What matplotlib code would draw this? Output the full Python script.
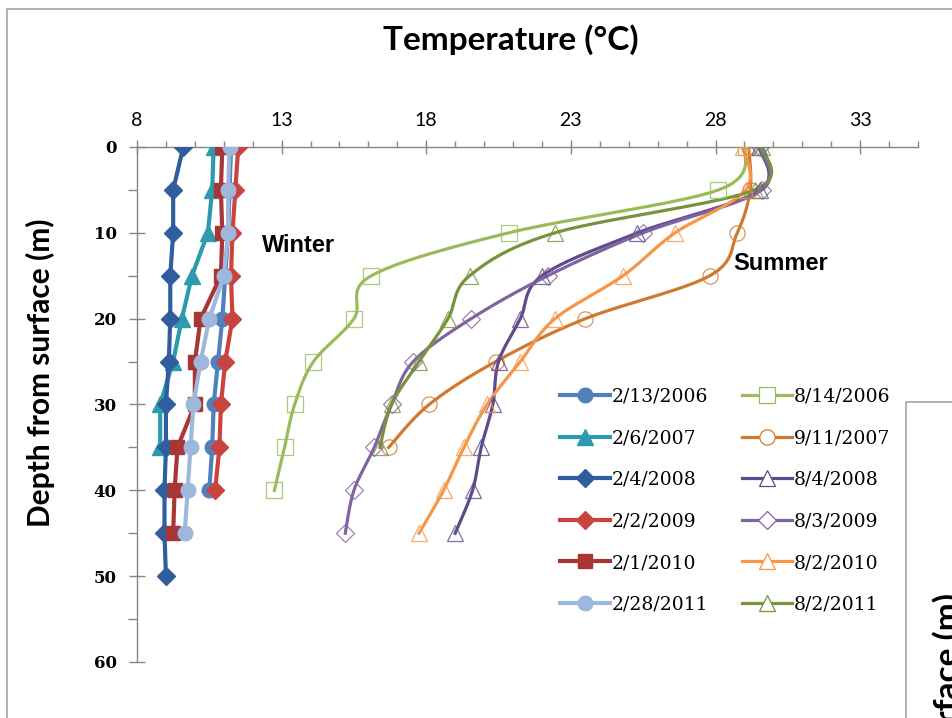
import numpy as np
import matplotlib
matplotlib.use("Agg")
import matplotlib.pyplot as plt
from matplotlib.lines import Line2D
from matplotlib.patches import Rectangle

# ---- data: water temperature profiles (degC) at 5 m depth steps ----
depth_step = 5

# winter profiles
w_2006_02_13 = [11.25, 11.2, 11.15, 11.05, 10.95, 10.8, 10.65, 10.6, 10.5]
w_2007_02_06 = [10.65, 10.6, 10.45, 9.9, 9.55, 9.25, 8.8, 8.8]
w_2008_02_04 = [9.6, 9.25, 9.25, 9.15, 9.15, 9.1, 9.0, 9.0, 8.95, 8.95, 9.0]
w_2009_02_02 = [11.5, 11.4, 11.3, 11.25, 11.3, 11.05, 10.9, 10.85, 10.7]
w_2010_02_01 = [10.95, 10.9, 10.95, 10.9, 10.2, 10.0, 10.0, 9.4, 9.3, 9.25]
w_2011_02_28 = [11.2, 11.15, 11.15, 11.0, 10.5, 10.2, 9.95, 9.85, 9.75, 9.65]

# summer profiles
s_2006_08_14 = [29.05, 28.1, 20.85, 16.1, 15.5, 14.1, 13.45, 13.1, 12.75]
s_2007_09_11 = [29.15, 29.2, 28.75, 27.8, 23.5, 20.4, 18.1, 16.7]
s_2008_08_04 = [29.5, 29.55, 25.3, 22.0, 21.25, 20.5, 20.3, 19.9, 19.6, 19.0]
s_2009_08_03 = [29.55, 29.6, 25.5, 22.2, 19.55, 17.55, 16.8, 16.2, 15.5, 15.2]
s_2010_08_02 = [28.95, 29.05, 26.6, 24.8, 22.45, 21.25, 20.1, 19.3, 18.6, 17.75]
s_2011_08_02 = [29.6, 29.35, 22.45, 19.5, 18.75, 17.75, 16.8, 16.4]

winter_labels = ["2/13/2006", "2/6/2007", "2/4/2008", "2/2/2009", "2/1/2010", "2/28/2011"]
summer_labels = ["8/14/2006", "9/11/2007", "8/4/2008", "8/3/2009", "8/2/2010", "8/2/2011"]

x_ticks = [8, 13, 18, 23, 28, 33]
y_ticks = [0, 10, 20, 30, 40, 50, 60]

winter = [w_2006_02_13, w_2007_02_06, w_2008_02_04, w_2009_02_02, w_2010_02_01, w_2011_02_28]
summer = [s_2006_08_14, s_2007_09_11, s_2008_08_04, s_2009_08_03, s_2010_08_02, s_2011_08_02]

winter_style = [
    ("#4F81BD", "o", 10.5),
    ("#2E9AAE", "^", 11),
    ("#2F5E9E", "D", 9),
    ("#C9443F", "D", 9),
    ("#A83636", "s", 10),
    ("#9DB8DC", "o", 10.5),
]
summer_style = [
    ("#9BBB59", "s", 11),
    ("#CF7A30", "o", 11),
    ("#5F4A8B", "^", 12),
    ("#8064A2", "D", 9),
    ("#F79646", "^", 12),
    ("#77933C", "^", 12),
]


def smooth_curve(x, y, n=24):
    """Bezier smoothing through the points (Catmull-Rom style control points)."""
    p = np.column_stack([x, y]).astype(float)
    if len(p) < 3:
        return p[:, 0], p[:, 1]
    ext = np.vstack([p[0], p, p[-1]])
    out = []
    t = np.linspace(0, 1, n)[:, None]
    for i in range(len(p) - 1):
        p0, p1, p2, p3 = ext[i], ext[i + 1], ext[i + 2], ext[i + 3]
        c1 = p1 + (p2 - p0) / 6.0
        c2 = p2 - (p3 - p1) / 6.0
        seg = ((1 - t) ** 3) * p1 + 3 * ((1 - t) ** 2) * t * c1 + 3 * (1 - t) * t ** 2 * c2 + t ** 3 * p2
        out.append(seg if i == 0 else seg[1:])
    out = np.vstack(out)
    return out[:, 0], out[:, 1]


fig = plt.figure(figsize=(9.52, 7.18), dpi=100)
fig.patch.set_facecolor("white")

W, H = 952.0, 718.0
ax = fig.add_axes([137 / W, 1 - 662 / H, (918 - 137) / W, (662 - 147) / H])

handles = []
for temps, (c, m, ms), lab in zip(winter, winter_style, winter_labels):
    d = np.arange(len(temps)) * depth_step
    ax.plot(temps, d, color=c, lw=3.0, marker=m, ms=ms, mfc=c, mec=c, zorder=3)
    handles.append(Line2D([], [], color=c, lw=3.0, marker=m, ms=ms, mfc=c, mec=c, label=lab))

for temps, (c, m, ms), lab in zip(summer, summer_style, summer_labels):
    d = np.arange(len(temps)) * depth_step
    sx, sy = smooth_curve(temps, d)
    ax.plot(sx, sy, color=c, lw=2.3, zorder=3)
    ax.plot(temps, d, ls="none", marker=m, ms=ms, mfc="none", mec=c, mew=0.9, alpha=0.8, zorder=4)
    handles.append(Line2D([], [], color=c, lw=2.3, marker=m, ms=ms, mfc="white", mec=c, mew=0.9, label=lab))

ax.set_xlim(8, 35)
ax.set_ylim(60, 0)
ax.xaxis.tick_top()
ax.set_xticks(x_ticks)
ax.set_xticks(np.arange(8, 36, 1), minor=True)
ax.set_yticks(y_ticks)
ax.set_yticks(np.arange(0, 61, 5), minor=True)

spine_c = "#868686"
for s in ("right", "bottom"):
    ax.spines[s].set_visible(False)
for s in ("top", "left"):
    ax.spines[s].set_color(spine_c)
    ax.spines[s].set_linewidth(1.0)

ax.tick_params(axis="x", which="major", direction="inout", length=9.5, width=1, color=spine_c,
               pad=8, labelsize=14, top=True, bottom=False)
ax.tick_params(axis="x", which="minor", direction="out", length=4, width=1, color=spine_c,
               top=True, bottom=False)
ax.tick_params(axis="y", which="major", direction="inout", length=11, width=1, color=spine_c,
               pad=9, labelsize=12)
ax.tick_params(axis="y", which="minor", direction="out", length=6.5, width=1, color=spine_c)
for lbl in ax.get_xticklabels():
    lbl.set_fontfamily("Lato")
for lbl in ax.get_yticklabels():
    lbl.set_fontfamily("DejaVu Serif")
    lbl.set_fontweight("bold")

leg = ax.legend(handles=handles, ncol=2, loc="upper left",
                bbox_to_anchor=(560 / W, 1 - 387.5 / H), bbox_transform=fig.transFigure,
                frameon=False, prop=dict(family="DejaVu Serif", size=13.5),
                handlelength=2.67, handletextpad=0.1, labelspacing=1.26, columnspacing=1.8,
                borderaxespad=0, borderpad=0)

# season annotations
fig.text(262 / W, 1 - 246 / H, "Winter", family="Liberation Sans", weight="bold", size=17,
         ha="left", va="center")
fig.text(733 / W, 1 - 264 / H, "Summer", family="Liberation Sans", weight="bold", size=17,
         ha="left", va="center")

# axis titles
fig.text(511 / W, 1 - 40 / H, "Temperature (°C)", family="Lato", weight="bold", size=24,
         ha="center", va="center")
fig.text(40 / W, 1 - 373 / H, "Depth from surface (m)", family="Lato", weight="bold", size=21.5,
         ha="center", va="center", rotation=90)

# chart frames
frame_c = "#A6A6A6"
fig.add_artist(Rectangle((7 / W, -0.1), 1.2, 1 - 9 / H + 0.1, transform=fig.transFigure,
                         fill=False, ec=frame_c, lw=1.2))
fig.add_artist(Rectangle((906 / W, -0.5), 0.5, 1 - 402 / H + 0.5, transform=fig.transFigure,
                         fill=False, ec=frame_c, lw=1.2))
fig.text(932 / W, 1 - 593 / H, "Depth from surface (m)", family="Lato", weight="bold", size=24,
         ha="left", va="top", rotation=90)

fig.savefig("out.png", dpi=100, facecolor="white")
